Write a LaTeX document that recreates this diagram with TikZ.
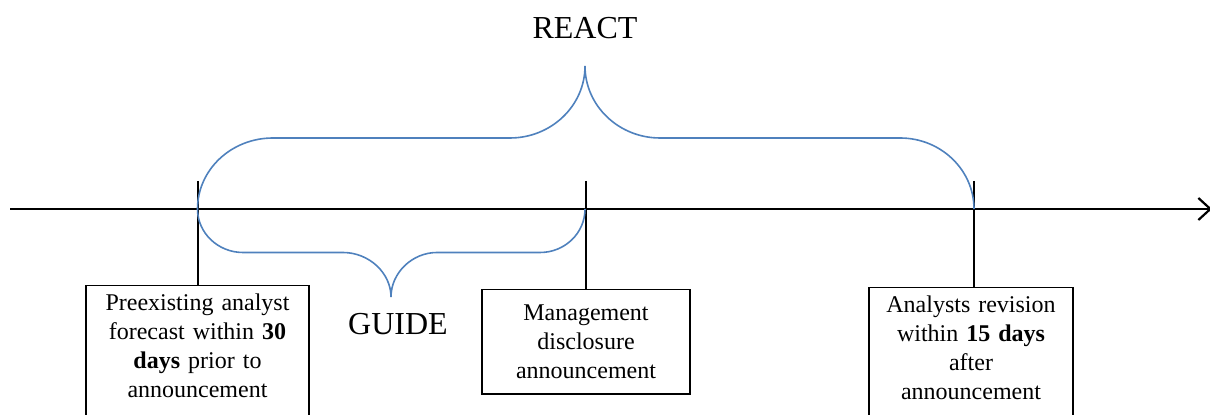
\documentclass[tikz,border=0pt]{standalone}
\usepackage{fontspec}
\setmainfont{Liberation Serif}
\usepackage{tikz}
\usetikzlibrary{arrows.meta}
\definecolor{braceblue}{RGB}{79,129,189}

\begin{document}
\begin{tikzpicture}[x=0.5pt,y=-0.5pt,
  event/.style={draw,line width=0.75pt,align=center,anchor=north,inner xsep=2pt,inner ysep=4pt,
    font=\fontsize{12}{14.6}\selectfont},
  brace/.style={braceblue,line width=0.8pt},
  label/.style={font=\fontsize{16}{19}\selectfont}]
\useasboundingbox (0,0) rectangle (1210,415);
\clip (0,0) rectangle (1210,415);
% time line
\coordinate (t0) at (10,209);
\coordinate (t1) at (1212,209);
\draw[line width=1.1pt,-{Straight Barb[length=6pt,width=11pt]}] (t0) -- (t1);
% events (the two outer boxes run on past the bottom edge)
\node[event,text width=107.5pt] (pre) at (197.5,285)
  {Preexisting analyst\\ forecast within \textbf{30}\\ \textbf{days} prior to\\ announcement\\[20pt]\mbox{}};
\node[event,text width=100pt,inner ysep=7.5pt] (mgmt) at (586,289)
  {Management\\ disclosure\\ announcement};
\node[event,text width=98pt] (rev) at (971,287)
  {Analysts revision\\ within \textbf{15 days}\\ after\\ announcement\\[20pt]\mbox{}};
\coordinate (k1) at (197.5,181);
\coordinate (k2) at (586,181);
\coordinate (k3) at (974,181);
\draw[line width=1pt] (k1) -- (k1 |- pre.north);
\draw[line width=1pt] (k2) -- (k2 |- mgmt.north);
\draw[line width=1pt] (k3) -- (k3 |- rev.north);
% braces
\draw[brace] (197.5,209) .. controls (197.5,170) and (231,138) .. (273,138) -- (510,138)
  .. controls (551,138) and (585,106) .. (585,66)
  .. controls (585,106) and (619,138) .. (660,138) -- (900,138)
  .. controls (941,138) and (974,170) .. (974,209);
\draw[brace] (197.5,209) .. controls (197.5,233) and (218,252.5) .. (243,252.5) -- (343,252.5)
  .. controls (369,252.5) and (391,273) .. (391,297)
  .. controls (391,273) and (412,252.5) .. (437,252.5) -- (540,252.5)
  .. controls (565,252.5) and (585,233) .. (585,209);
\node[label] (react) at (585,28) {REACT};
\node[label] (guide) at (398,324) {GUIDE};
\end{tikzpicture}
\end{document}
